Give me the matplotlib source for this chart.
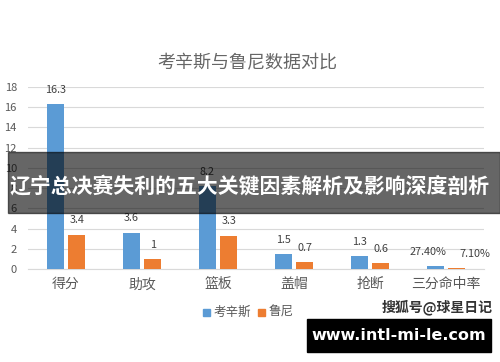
import numpy as np
import matplotlib
matplotlib.use('Agg')
import matplotlib.pyplot as plt
from matplotlib.patches import Rectangle

plt.rcParams['font.family'] = ['Noto Sans CJK SC', 'DejaVu Sans']

#data
categories = ['得分', '助攻', '篮板', '盖帽', '抢断', '三分命中率']
cousins = [16.3, 3.6, 8.2, 1.5, 1.3, 0.274]
rooney = [3.4, 1.0, 3.3, 0.7, 0.6, 0.071]
cousins_labels = ['16.3', '3.6', '8.2', '1.5', '1.3', '27.40%']
rooney_labels = ['3.4', '1', '3.3', '0.7', '0.6', '7.10%']
series_names = ['考辛斯', '鲁尼']
yticks = [0, 2, 4, 6, 8, 10, 12, 14, 16, 18]

blue = '#5b9bd5'
orange = '#ed7d31'
gray = '#595959'

fig = plt.figure(figsize=(5, 3.62), dpi=100)
ax = fig.add_axes([0.056, 0.257, 0.912, 0.503])

x = np.arange(len(categories))
w = 0.22
off = 0.14
ax.bar(x - off, cousins, w, color=blue, zorder=3)
ax.bar(x + off, rooney, w, color=orange, zorder=3)

for i in range(len(categories)):
    # last group labels are wide, push them apart
    dx1 = -0.1 if i == 5 else 0
    dx2 = 0.24 if i == 5 else 0
    ax.text(x[i] - off + dx1, cousins[i] + 0.9, cousins_labels[i], ha='center', va='bottom',
            fontsize=7.8, color='#404040')
    ax.text(x[i] + off + dx2, rooney[i] + 0.9, rooney_labels[i],
            ha='center', va='bottom', fontsize=7.8, color='#404040')

ax.set_xlim(-0.5, len(categories) - 0.5)
ax.set_ylim(0, 18)
ax.set_yticks(yticks)
ax.set_xticks(x)
ax.set_xticklabels(categories, fontsize=10, color=gray)
ax.tick_params(axis='y', labelsize=8, colors=gray, length=0, pad=8)
ax.tick_params(axis='x', length=0, pad=6)
ax.yaxis.grid(True, color='#d9d9d9', linewidth=0.8, zorder=0)
for s in ['top', 'right', 'left']:
    ax.spines[s].set_visible(False)
ax.spines['bottom'].set_color('#d9d9d9')

#title
fig.text(0.494, 0.826, '考辛斯与鲁尼数据对比', ha='center', va='center', fontsize=13, color='#666666')

#legend
fig.patches.append(Rectangle((0.406, 0.128), 0.014, 0.019, transform=fig.transFigure, color=blue))
fig.text(0.428, 0.137, series_names[0], ha='left', va='center', fontsize=9, color=gray)
fig.patches.append(Rectangle((0.516, 0.128), 0.014, 0.019, transform=fig.transFigure, color=orange))
fig.text(0.537, 0.137, series_names[1], ha='left', va='center', fontsize=9, color=gray)

#overlay banner
fig.patches.append(Rectangle((0.016, 0.412), 0.984, 0.168, transform=fig.transFigure,
                             color='black', alpha=0.6, zorder=10))
fig.text(0.5, 0.487, '辽宁总决赛失利的五大关键因素解析及影响深度剖析', ha='center', va='center',
         fontsize=15, color='white', fontweight='bold', zorder=11)

#watermarks
fig.text(0.874, 0.152, '搜狐号@球星日记', ha='center', va='center', fontsize=10,
         color='#333333', fontweight='bold')
fig.patches.append(Rectangle((0.614, 0.028), 0.368, 0.092, transform=fig.transFigure,
                             color='black', zorder=10))
fig.text(0.798, 0.074, 'www.intl-mi-le.com', ha='center', va='center', fontsize=11.5,
         color='white', fontweight='bold', family='DejaVu Sans', zorder=11)

fig.savefig('out.png', dpi=100)
